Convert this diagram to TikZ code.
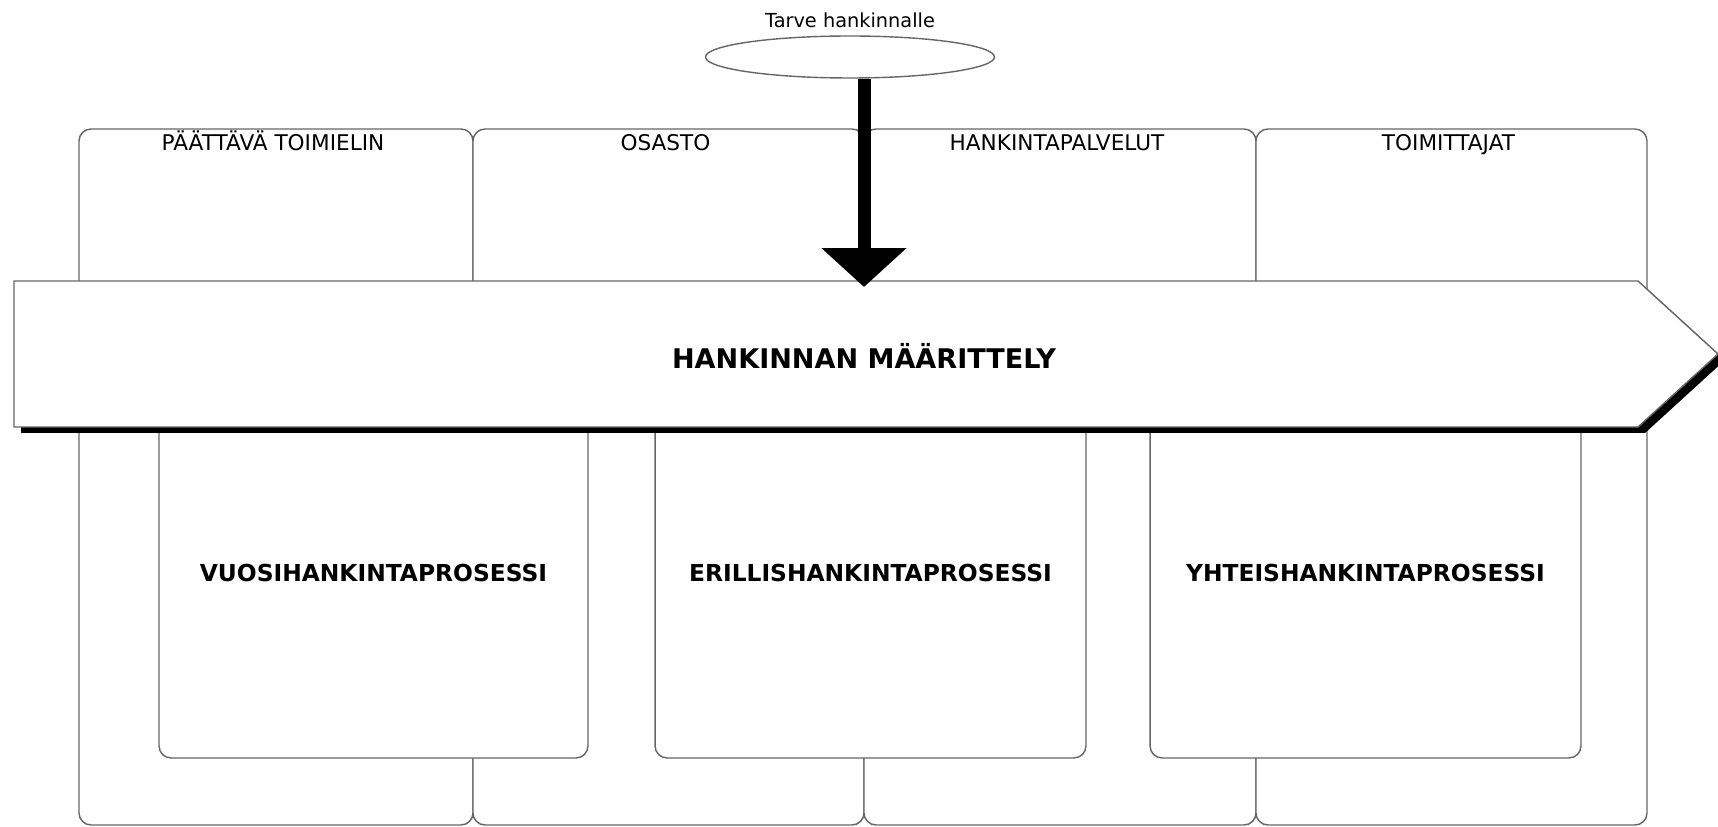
\documentclass[tikz,border=0pt]{standalone}
\usepackage{fontspec}
\setmainfont{DejaVu Sans}
\usetikzlibrary{arrows.meta,shapes.geometric}
\colorlet{laneline}{black!60}
\tikzstyle{lane}=[draw=laneline,line width=0.8pt,fill=white,rounded corners=0.24cm]
\tikzstyle{lanetext}=[font=\fontsize{12.3}{14}\selectfont,anchor=base]
\tikzstyle{procbox}=[draw=laneline,line width=0.8pt,fill=white,rounded corners=0.24cm,minimum height=7.4cm,font=\fontsize{13.3}{16}\selectfont\bfseries]
\tikzstyle{needarrow}=[line width=0.26cm,-{Triangle[width=1.66cm,length=0.78cm]}]

\begin{document}
\begin{tikzpicture}[x=0.02cm,y=-0.02cm]
 \useasboundingbox (0,0) rectangle (1718,827);
 % lanes
 \foreach \X/\Y/\L/\N in {79/473/PÄÄTTÄVÄ TOIMIELIN/paat,473/864/OSASTO/osasto,864/1256/HANKINTAPALVELUT/hpal,1256/1647/TOIMITTAJAT/toim}
 {
 \draw[lane] (\X,129) rectangle (\Y,825);
 \node[lanetext] (\N) at ({(\X+\Y)/2-3},151) {\L};
 }
 %
 \node[procbox,minimum width=8.58cm] (vuosi) at (373.5,573) {VUOSIHANKINTAPROSESSI};
 \node[procbox,minimum width=8.62cm] (erill) at (870.5,573) {ERILLISHANKINTAPROSESSI};
 \node[procbox,minimum width=8.62cm] (yhteis) at (1365.5,573) {YHTEISHANKINTAPROSESSI};
 %
 \fill[black] (21,287) -- (1645,287) -- (1725,360) -- (1645,433) -- (21,433) -- cycle;
 \draw[draw=laneline,line width=0.8pt,fill=white] (14,281) -- (1638,281) -- (1718,354) -- (1638,427) -- (14,427) -- cycle;
 \node[font=\fontsize{15.4}{18}\selectfont\bfseries] (maar) at (864,356) {HANKINNAN MÄÄRITTELY};
 \coordinate (bantop) at (864,287);
 %
 \node[draw=laneline,line width=0.8pt,ellipse,minimum width=5.78cm,minimum height=0.84cm,inner sep=0pt] (tarve) at (850,57) {};
 \node[font=\fontsize{11}{13}\selectfont] (tarvetxt) at (850,20) {Tarve hankinnalle};
 \draw[needarrow] (tarve.south -| bantop) -- (bantop);
\end{tikzpicture}
\end{document}
